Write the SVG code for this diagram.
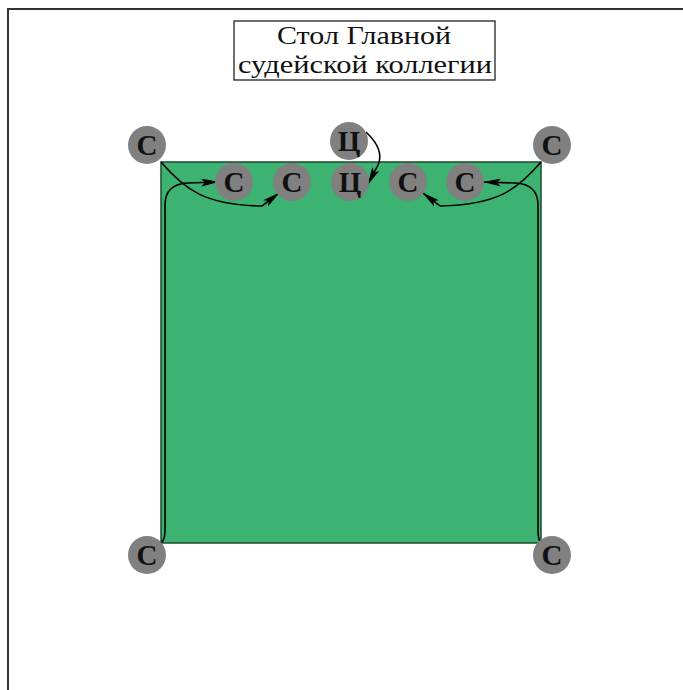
<svg xmlns="http://www.w3.org/2000/svg" width="683" height="690" viewBox="0 0 683 690">
<defs>
<marker id="arr" viewBox="0 0 18 8" refX="17" refY="4" markerWidth="18" markerHeight="8" markerUnits="userSpaceOnUse" orient="auto">
<path d="M0,0 L18,4 L0,8 L4,4 Z" fill="#000"/>
</marker>
</defs>
<style>
.node circle{fill:#808080;}
.node text{font-family:"Liberation Serif",serif;font-weight:bold;font-size:29px;fill:#111;text-anchor:middle;}
.conn path{fill:none;stroke:#000;stroke-width:1.6;}
.title text{font-family:"Liberation Serif",serif;font-size:26px;fill:#111;text-anchor:middle;}
</style>
<rect width="683" height="690" fill="#fff"/>
<g id="frame" stroke="#333" stroke-width="2" fill="none">
<path d="M8,690 L8,9 L683,9"/>
</g>
<g id="title" class="title">
<rect x="234" y="21" width="261" height="59" fill="#fff" stroke="#222" stroke-width="1.3"/>
<text x="364" y="44" textLength="174" lengthAdjust="spacingAndGlyphs">Стол Главной</text>
<text x="365" y="73" textLength="254" lengthAdjust="spacingAndGlyphs">судейской коллегии</text>
</g>
<g id="field">
<rect x="161" y="162" width="380" height="381" fill="#3cb371" stroke="#1e4a2e" stroke-width="1.5"/>
</g>
<g id="connectors" class="conn">
<path d="M161,162 C185,190 205,205 262,206 L279,193" marker-end="url(#arr)"/>
<path d="M161,543 Q165,540 165,530 L165,205 Q165,184 188,183 L218,182" marker-end="url(#arr)"/>
<path d="M541,162 C517,190 497,205 440,206 L423,193" marker-end="url(#arr)"/>
<path d="M541,543 Q538,540 538,530 L538,205 Q538,184 515,183 L484,182" marker-end="url(#arr)"/>
<path d="M366,132 Q385,150 378,165 L368,184" marker-end="url(#arr)"/>
</g>
<g id="n-tl" class="node"><circle cx="147" cy="145" r="19"/><text x="147" y="155">С</text></g>
<g id="n-tr" class="node"><circle cx="552" cy="145" r="19"/><text x="552" y="155">С</text></g>
<g id="n-bl" class="node"><circle cx="147" cy="555" r="19"/><text x="147" y="565">С</text></g>
<g id="n-br" class="node"><circle cx="552" cy="555" r="19"/><text x="552" y="565">С</text></g>
<g id="n-c-top" class="node"><circle cx="349" cy="141" r="19"/><text x="349" y="151">Ц</text></g>
<g id="n-c" class="node"><circle cx="350" cy="182" r="19"/><text x="350" y="192">Ц</text></g>
<g id="n-l1" class="node"><circle cx="234" cy="182" r="19"/><text x="234" y="192">С</text></g>
<g id="n-l2" class="node"><circle cx="292" cy="182" r="19"/><text x="292" y="192">С</text></g>
<g id="n-r1" class="node"><circle cx="408" cy="182" r="19"/><text x="408" y="192">С</text></g>
<g id="n-r2" class="node"><circle cx="465" cy="182" r="19"/><text x="465" y="192">С</text></g>
</svg>
